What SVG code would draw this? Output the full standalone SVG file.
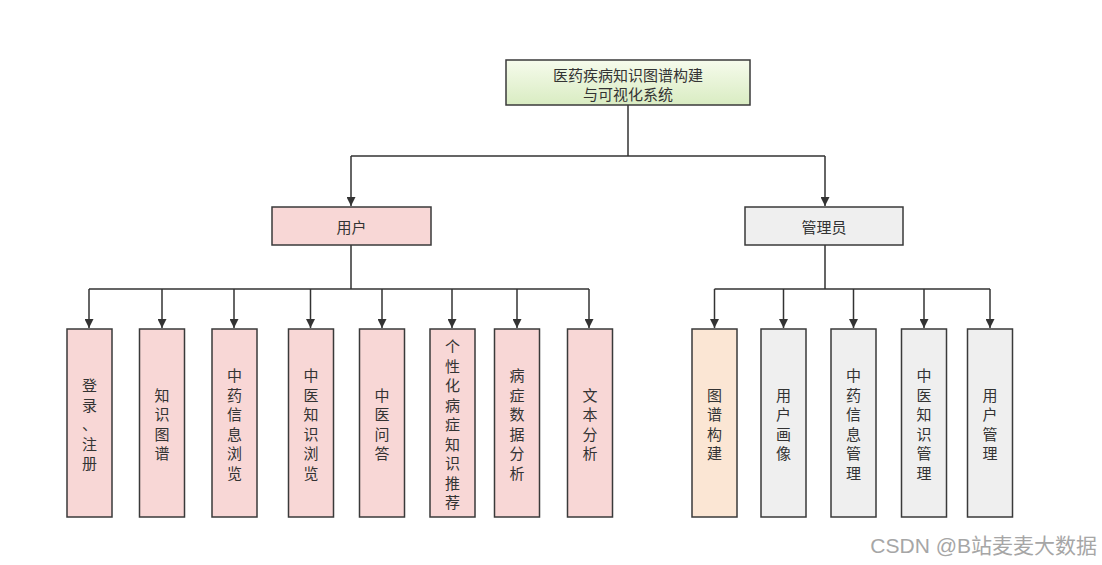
<svg xmlns="http://www.w3.org/2000/svg" width="1102" height="565" viewBox="0 0 1102 565">
<defs>
<linearGradient id="gRoot" x1="0" y1="0" x2="0" y2="1">
<stop offset="0" stop-color="#f6fbec"/>
<stop offset="1" stop-color="#d9ecc2"/>
</linearGradient>
<marker id="arr" viewBox="0 0 10 10" refX="10" refY="5" markerWidth="10" markerHeight="9" markerUnits="userSpaceOnUse" orient="auto">
<path d="M0,0 L10,5 L0,10 z" fill="#333"/>
</marker>
</defs>
<style>
.box{stroke:#3a3a3a;stroke-width:1.5}
.pink{fill:#f8d7d6}
.gray{fill:#efefef}
.peach{fill:#fbe6d4}
.t{font-family:"Noto Sans CJK SC","Noto Sans",sans-serif;font-size:15px;fill:#333;text-anchor:middle;dominant-baseline:central}
.c{fill:none;stroke:#333;stroke-width:1.5}
.csdn{font-family:"Liberation Sans","Noto Sans CJK SC",sans-serif;font-size:21px;fill:#a6a6a6}
</style>
<rect width="1102" height="565" fill="#fff"/>
<g id="connectors">
<path class="c" d="M628,105 V156 M351,156 H825"/>
<path class="c" d="M351,156 V206" marker-end="url(#arr)"/>
<path class="c" d="M825,156 V206" marker-end="url(#arr)"/>
<path class="c" d="M351,245 V289 M89,289 H589"/>
<path class="c" d="M89,289 V328" marker-end="url(#arr)"/>
<path class="c" d="M162,289 V328" marker-end="url(#arr)"/>
<path class="c" d="M234,289 V328" marker-end="url(#arr)"/>
<path class="c" d="M310.5,289 V328" marker-end="url(#arr)"/>
<path class="c" d="M382,289 V328" marker-end="url(#arr)"/>
<path class="c" d="M452,289 V328" marker-end="url(#arr)"/>
<path class="c" d="M517,289 V328" marker-end="url(#arr)"/>
<path class="c" d="M589,289 V328" marker-end="url(#arr)"/>
<path class="c" d="M825,245 V289 M714.5,289 H990"/>
<path class="c" d="M714.5,289 V328" marker-end="url(#arr)"/>
<path class="c" d="M783.5,289 V328" marker-end="url(#arr)"/>
<path class="c" d="M853.5,289 V328" marker-end="url(#arr)"/>
<path class="c" d="M924,289 V328" marker-end="url(#arr)"/>
<path class="c" d="M990,289 V328" marker-end="url(#arr)"/>
</g>
<g id="root">
<rect class="box" x="506" y="60" width="244" height="45" fill="url(#gRoot)"/>
<text class="t"><tspan x="628" y="73.5">医药疾病知识图谱构建</tspan><tspan x="628" y="92.5">与可视化系统</tspan></text>
</g>
<g id="user">
<rect class="box pink" x="272" y="207" width="159" height="38"/>
<text class="t" x="351.5" y="226">用户</text>
</g>
<g id="admin">
<rect class="box gray" x="745" y="207" width="158" height="38"/>
<text class="t" x="824" y="226">管理员</text>
</g>
<g id="u1">
<rect class="box pink" x="67" y="329" width="45" height="188"/>
<text class="t"><tspan x="89.5" y="384">登</tspan><tspan x="89.5" y="403.5">录</tspan><tspan x="89.5" y="423">、</tspan><tspan x="89.5" y="442.5">注</tspan><tspan x="89.5" y="462">册</tspan></text>
</g>
<g id="u2">
<rect class="box pink" x="139.5" y="329" width="45" height="188"/>
<text class="t"><tspan x="162" y="393.75">知</tspan><tspan x="162" y="413.25">识</tspan><tspan x="162" y="432.75">图</tspan><tspan x="162" y="452.25">谱</tspan></text>
</g>
<g id="u3">
<rect class="box pink" x="212" y="329" width="45" height="188"/>
<text class="t"><tspan x="234.5" y="374.25">中</tspan><tspan x="234.5" y="393.75">药</tspan><tspan x="234.5" y="413.25">信</tspan><tspan x="234.5" y="432.75">息</tspan><tspan x="234.5" y="452.25">浏</tspan><tspan x="234.5" y="471.75">览</tspan></text>
</g>
<g id="u4">
<rect class="box pink" x="288.5" y="329" width="45" height="188"/>
<text class="t"><tspan x="311" y="374.25">中</tspan><tspan x="311" y="393.75">医</tspan><tspan x="311" y="413.25">知</tspan><tspan x="311" y="432.75">识</tspan><tspan x="311" y="452.25">浏</tspan><tspan x="311" y="471.75">览</tspan></text>
</g>
<g id="u5">
<rect class="box pink" x="359.5" y="329" width="45" height="188"/>
<text class="t"><tspan x="382" y="393.75">中</tspan><tspan x="382" y="413.25">医</tspan><tspan x="382" y="432.75">问</tspan><tspan x="382" y="452.25">答</tspan></text>
</g>
<g id="u6">
<rect class="box pink" x="430" y="329" width="45" height="188"/>
<text class="t"><tspan x="452.5" y="345">个</tspan><tspan x="452.5" y="364.5">性</tspan><tspan x="452.5" y="384">化</tspan><tspan x="452.5" y="403.5">病</tspan><tspan x="452.5" y="423">症</tspan><tspan x="452.5" y="442.5">知</tspan><tspan x="452.5" y="462">识</tspan><tspan x="452.5" y="481.5">推</tspan><tspan x="452.5" y="501">荐</tspan></text>
</g>
<g id="u7">
<rect class="box pink" x="494.5" y="329" width="45" height="188"/>
<text class="t"><tspan x="517" y="374.25">病</tspan><tspan x="517" y="393.75">症</tspan><tspan x="517" y="413.25">数</tspan><tspan x="517" y="432.75">据</tspan><tspan x="517" y="452.25">分</tspan><tspan x="517" y="471.75">析</tspan></text>
</g>
<g id="u8">
<rect class="box pink" x="567.5" y="329" width="45" height="188"/>
<text class="t"><tspan x="590" y="393.75">文</tspan><tspan x="590" y="413.25">本</tspan><tspan x="590" y="432.75">分</tspan><tspan x="590" y="452.25">析</tspan></text>
</g>
<g id="a1">
<rect class="box peach" x="692" y="329" width="45" height="188"/>
<text class="t"><tspan x="714.5" y="393.75">图</tspan><tspan x="714.5" y="413.25">谱</tspan><tspan x="714.5" y="432.75">构</tspan><tspan x="714.5" y="452.25">建</tspan></text>
</g>
<g id="a2">
<rect class="box gray" x="761" y="329" width="45" height="188"/>
<text class="t"><tspan x="783.5" y="393.75">用</tspan><tspan x="783.5" y="413.25">户</tspan><tspan x="783.5" y="432.75">画</tspan><tspan x="783.5" y="452.25">像</tspan></text>
</g>
<g id="a3">
<rect class="box gray" x="831" y="329" width="45" height="188"/>
<text class="t"><tspan x="853.5" y="374.25">中</tspan><tspan x="853.5" y="393.75">药</tspan><tspan x="853.5" y="413.25">信</tspan><tspan x="853.5" y="432.75">息</tspan><tspan x="853.5" y="452.25">管</tspan><tspan x="853.5" y="471.75">理</tspan></text>
</g>
<g id="a4">
<rect class="box gray" x="901.5" y="329" width="45" height="188"/>
<text class="t"><tspan x="924" y="374.25">中</tspan><tspan x="924" y="393.75">医</tspan><tspan x="924" y="413.25">知</tspan><tspan x="924" y="432.75">识</tspan><tspan x="924" y="452.25">管</tspan><tspan x="924" y="471.75">理</tspan></text>
</g>
<g id="a5">
<rect class="box gray" x="967.5" y="329" width="45" height="188"/>
<text class="t"><tspan x="990" y="393.75">用</tspan><tspan x="990" y="413.25">户</tspan><tspan x="990" y="432.75">管</tspan><tspan x="990" y="452.25">理</tspan></text>
</g>
<text class="csdn" x="1097" y="553" text-anchor="end">CSDN @B站麦麦大数据</text>
</svg>
